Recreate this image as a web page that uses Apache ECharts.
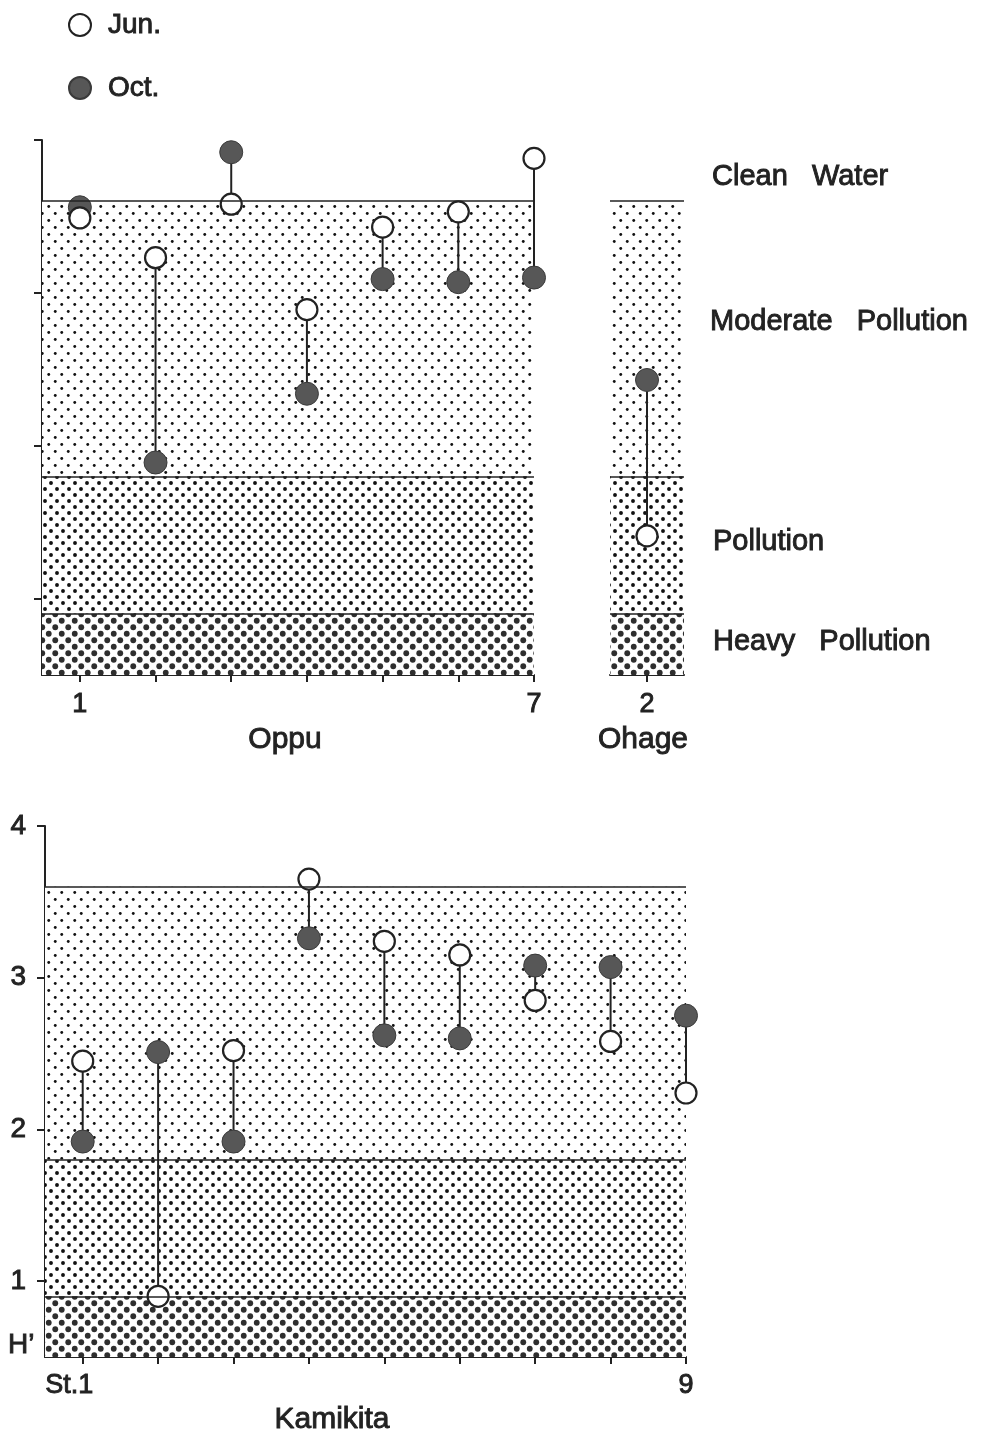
<!DOCTYPE html>
<html><head><meta charset="utf-8">
<script src="https://cdn.jsdelivr.net/npm/echarts@6/dist/echarts.min.js"></script>
<style>html,body{margin:0;padding:0;background:#fff}#c{width:983px;height:1438px}</style>
</head><body><div id="c"></div>
<script>
// ---- data ----
const oppuStations = [1, 2, 3, 4, 5, 6, 7];
const oppuJun = [3.49, 3.23, 3.58, 2.89, 3.43, 3.53, 3.88];
const oppuOct = [3.56, 1.89, 3.92, 2.34, 3.09, 3.07, 3.10];
const oppuLabelValues = [1, 7];

const ohageStations = [2];
const ohageJun = [1.41];
const ohageOct = [2.43];
const ohageLabelValues = [2];

const kamiStations = [1, 2, 3, 4, 5, 6, 7, 8, 9];
const kamiJun = [2.45, 0.90, 2.52, 3.65, 3.24, 3.15, 2.85, 2.58, 2.24];
const kamiOct = [1.92, 2.51, 1.92, 3.26, 2.62, 2.60, 3.08, 3.07, 2.75];
const kamiLabelValues = [1, 9];

const yTickValues = [1, 2, 3, 4];
const bandBounds = [0.5, 0.9, 1.8, 3.6];   // heavy | pollution | moderate | clean
const bandNames = ['Heavy   Pollution', 'Pollution', 'Moderate   Pollution', 'Clean   Water'];
const seriesNames = ['Jun.', 'Oct.'];
const panelNames = ['Oppu', 'Ohage', 'Kamikita'];

// ---- patterns ----
function dotTile(w, h, r, color, pts) {
  const c = document.createElement('canvas');
  c.width = w; c.height = h;
  const g = c.getContext('2d');
  g.fillStyle = '#ffffff'; g.fillRect(0, 0, w, h);
  g.fillStyle = color;
  pts.forEach(([x, y]) => {
    for (const dx of [-w, 0, w]) for (const dy of [-h, 0, h]) {
      g.beginPath(); g.arc(x + dx, y + dy, r, 0, Math.PI * 2); g.fill();
    }
  });
  return c;
}
const patModerate = { image: dotTile(13, 14, 1.45, '#111111', [[3.25, 3.5], [9.75, 10.5]]), repeat: 'repeat' };
const patPollution = { image: dotTile(12, 12, 1.95, '#111111', [[3, 3], [9, 9]]), repeat: 'repeat' };
const patHeavy = { image: dotTile(13, 13, 2.9, '#2e2e2e', [[3.25, 3.25], [9.75, 9.75]]), repeat: 'repeat' };

const FONT = '"Liberation Sans", Arial, Helvetica, sans-serif';
const INK = '#222';
const THICK = 0.9;

function panelSeries(gi, stations, jun, oct) {
  return [
    {
      type: 'line', xAxisIndex: gi, yAxisIndex: gi, data: [], silent: true, z: 0,
      markArea: {
        silent: true,
        data: [
          [{ yAxis: bandBounds[2], itemStyle: { color: patModerate } }, { yAxis: bandBounds[3] }],
          [{ yAxis: bandBounds[1], itemStyle: { color: patPollution } }, { yAxis: bandBounds[2] }],
          [{ yAxis: bandBounds[0], itemStyle: { color: patHeavy } }, { yAxis: bandBounds[1] }]
        ]
      },
      markLine: {
        silent: true, symbol: 'none', label: { show: false },
        lineStyle: { color: INK, width: 1.6, type: 'solid' },
        data: [{ yAxis: bandBounds[3] }, { yAxis: bandBounds[2] }, { yAxis: bandBounds[1] }]
      }
    },
    {
      type: 'custom', xAxisIndex: gi, yAxisIndex: gi, z: 2, silent: true,
      data: stations.map((s, i) => [s, jun[i], oct[i]]),
      encode: { x: 0, y: [1, 2] },
      renderItem: (params, api) => {
        const a = api.coord([api.value(0), api.value(1)]);
        const b = api.coord([api.value(0), api.value(2)]);
        return { type: 'line', shape: { x1: a[0], y1: a[1], x2: b[0], y2: b[1] }, style: { stroke: INK, lineWidth: 2 } };
      }
    },
    {
      name: seriesNames[1], type: 'scatter', xAxisIndex: gi, yAxisIndex: gi, z: 3,
      symbol: 'circle', symbolSize: 23,
      itemStyle: { color: '#575757', borderColor: '#3a3a3a', borderWidth: 1, opacity: 1 },
      data: stations.map((s, i) => [s, oct[i]])
    },
    {
      name: seriesNames[0], type: 'scatter', xAxisIndex: gi, yAxisIndex: gi, z: 4,
      symbol: 'circle', symbolSize: 21,
      itemStyle: { color: '#ffffff', borderColor: INK, borderWidth: 2.2, opacity: 1 },
      data: stations.map((s, i) => [s, jun[i]])
    }
  ];
}

function xAxisDef(gi, min, max, ticks, labels, margin, fmt) {
  return {
    gridIndex: gi, type: 'value', min: min, max: max,
    axisLine: { show: true, onZero: false, lineStyle: { color: INK, width: 2 } },
    axisTick: { show: true, customValues: ticks, length: 7, lineStyle: { color: INK, width: 2 } },
    axisLabel: {
      show: true, customValues: labels, margin: margin, color: INK, fontSize: 27, fontFamily: FONT,
      textBorderColor: INK, textBorderWidth: THICK,
      formatter: fmt || (v => String(v)),
      rich: { st: { fontSize: 27, fontFamily: FONT, color: INK, textBorderColor: INK, textBorderWidth: THICK, padding: [0, 27, 0, 0] } }
    },
    splitLine: { show: false }
  };
}
function yAxisDef(gi, show, labels) {
  return {
    gridIndex: gi, type: 'value', min: bandBounds[0], max: 4, show: show,
    axisLine: { show: true, onZero: false, lineStyle: { color: INK, width: 2 } },
    axisTick: { show: true, customValues: yTickValues, length: 8, lineStyle: { color: INK, width: 2 } },
    axisLabel: {
      show: labels, customValues: yTickValues, margin: 19, color: INK, fontSize: 28, fontFamily: FONT,
      textBorderColor: INK, textBorderWidth: THICK
    },
    splitLine: { show: false }
  };
}

function label(text, x, y, size, align) {
  return {
    type: 'text', x: x, y: y,
    style: {
      text: text, font: size + 'px ' + FONT, fill: INK, stroke: INK, lineWidth: THICK,
      textAlign: align || 'left', textVerticalAlign: 'middle'
    }
  };
}

const chart = echarts.init(document.getElementById('c'), null, { renderer: 'canvas' });
const option = {
  backgroundColor: '#ffffff',
  animation: false,
  textStyle: { fontFamily: FONT },
  grid: [
    { left: 42, top: 140, width: 492, height: 535, outerBoundsMode: 'none', containLabel: false },
    { left: 610, top: 140, width: 74, height: 535, outerBoundsMode: 'none', containLabel: false },
    { left: 45, top: 826, width: 641, height: 531, outerBoundsMode: 'none', containLabel: false }
  ],
  xAxis: [
    xAxisDef(0, 0.5, 7, oppuStations, oppuLabelValues, 16),
    xAxisDef(1, 1.5, 2.5, ohageStations, ohageLabelValues, 16),
    xAxisDef(2, 0.5, 9, kamiStations, kamiLabelValues, 15, v => v === 1 ? '{st|St.1}' : String(v))
  ],
  yAxis: [yAxisDef(0, true, false), yAxisDef(1, false, false), yAxisDef(2, true, true)],
  legend: {
    orient: 'vertical', left: 63, top: 5, itemWidth: 22, itemHeight: 22, itemGap: 33,
    selectedMode: false, icon: 'circle',
    data: seriesNames,
    textStyle: {
      fontSize: 28, fontFamily: FONT, color: INK, lineHeight: 30, padding: [0, 0, 0, 12],
      textBorderColor: INK, textBorderWidth: THICK
    }
  },
  graphic: [
    label(bandNames[3], 712, 177, 29),
    label(bandNames[2], 710, 322, 29),
    label(bandNames[1], 713, 542, 29),
    label(bandNames[0], 713, 642, 29),
    label(panelNames[0], 285, 740, 30, 'center'),
    label(panelNames[1], 643, 740, 30, 'center'),
    label(panelNames[2], 332, 1420, 30, 'center'),
    label("H’", 8, 1345, 28)
  ],
  series: [].concat(
    panelSeries(0, oppuStations, oppuJun, oppuOct),
    panelSeries(1, ohageStations, ohageJun, ohageOct),
    panelSeries(2, kamiStations, kamiJun, kamiOct)
  )
};
chart.setOption(option);
</script>
</body></html>
